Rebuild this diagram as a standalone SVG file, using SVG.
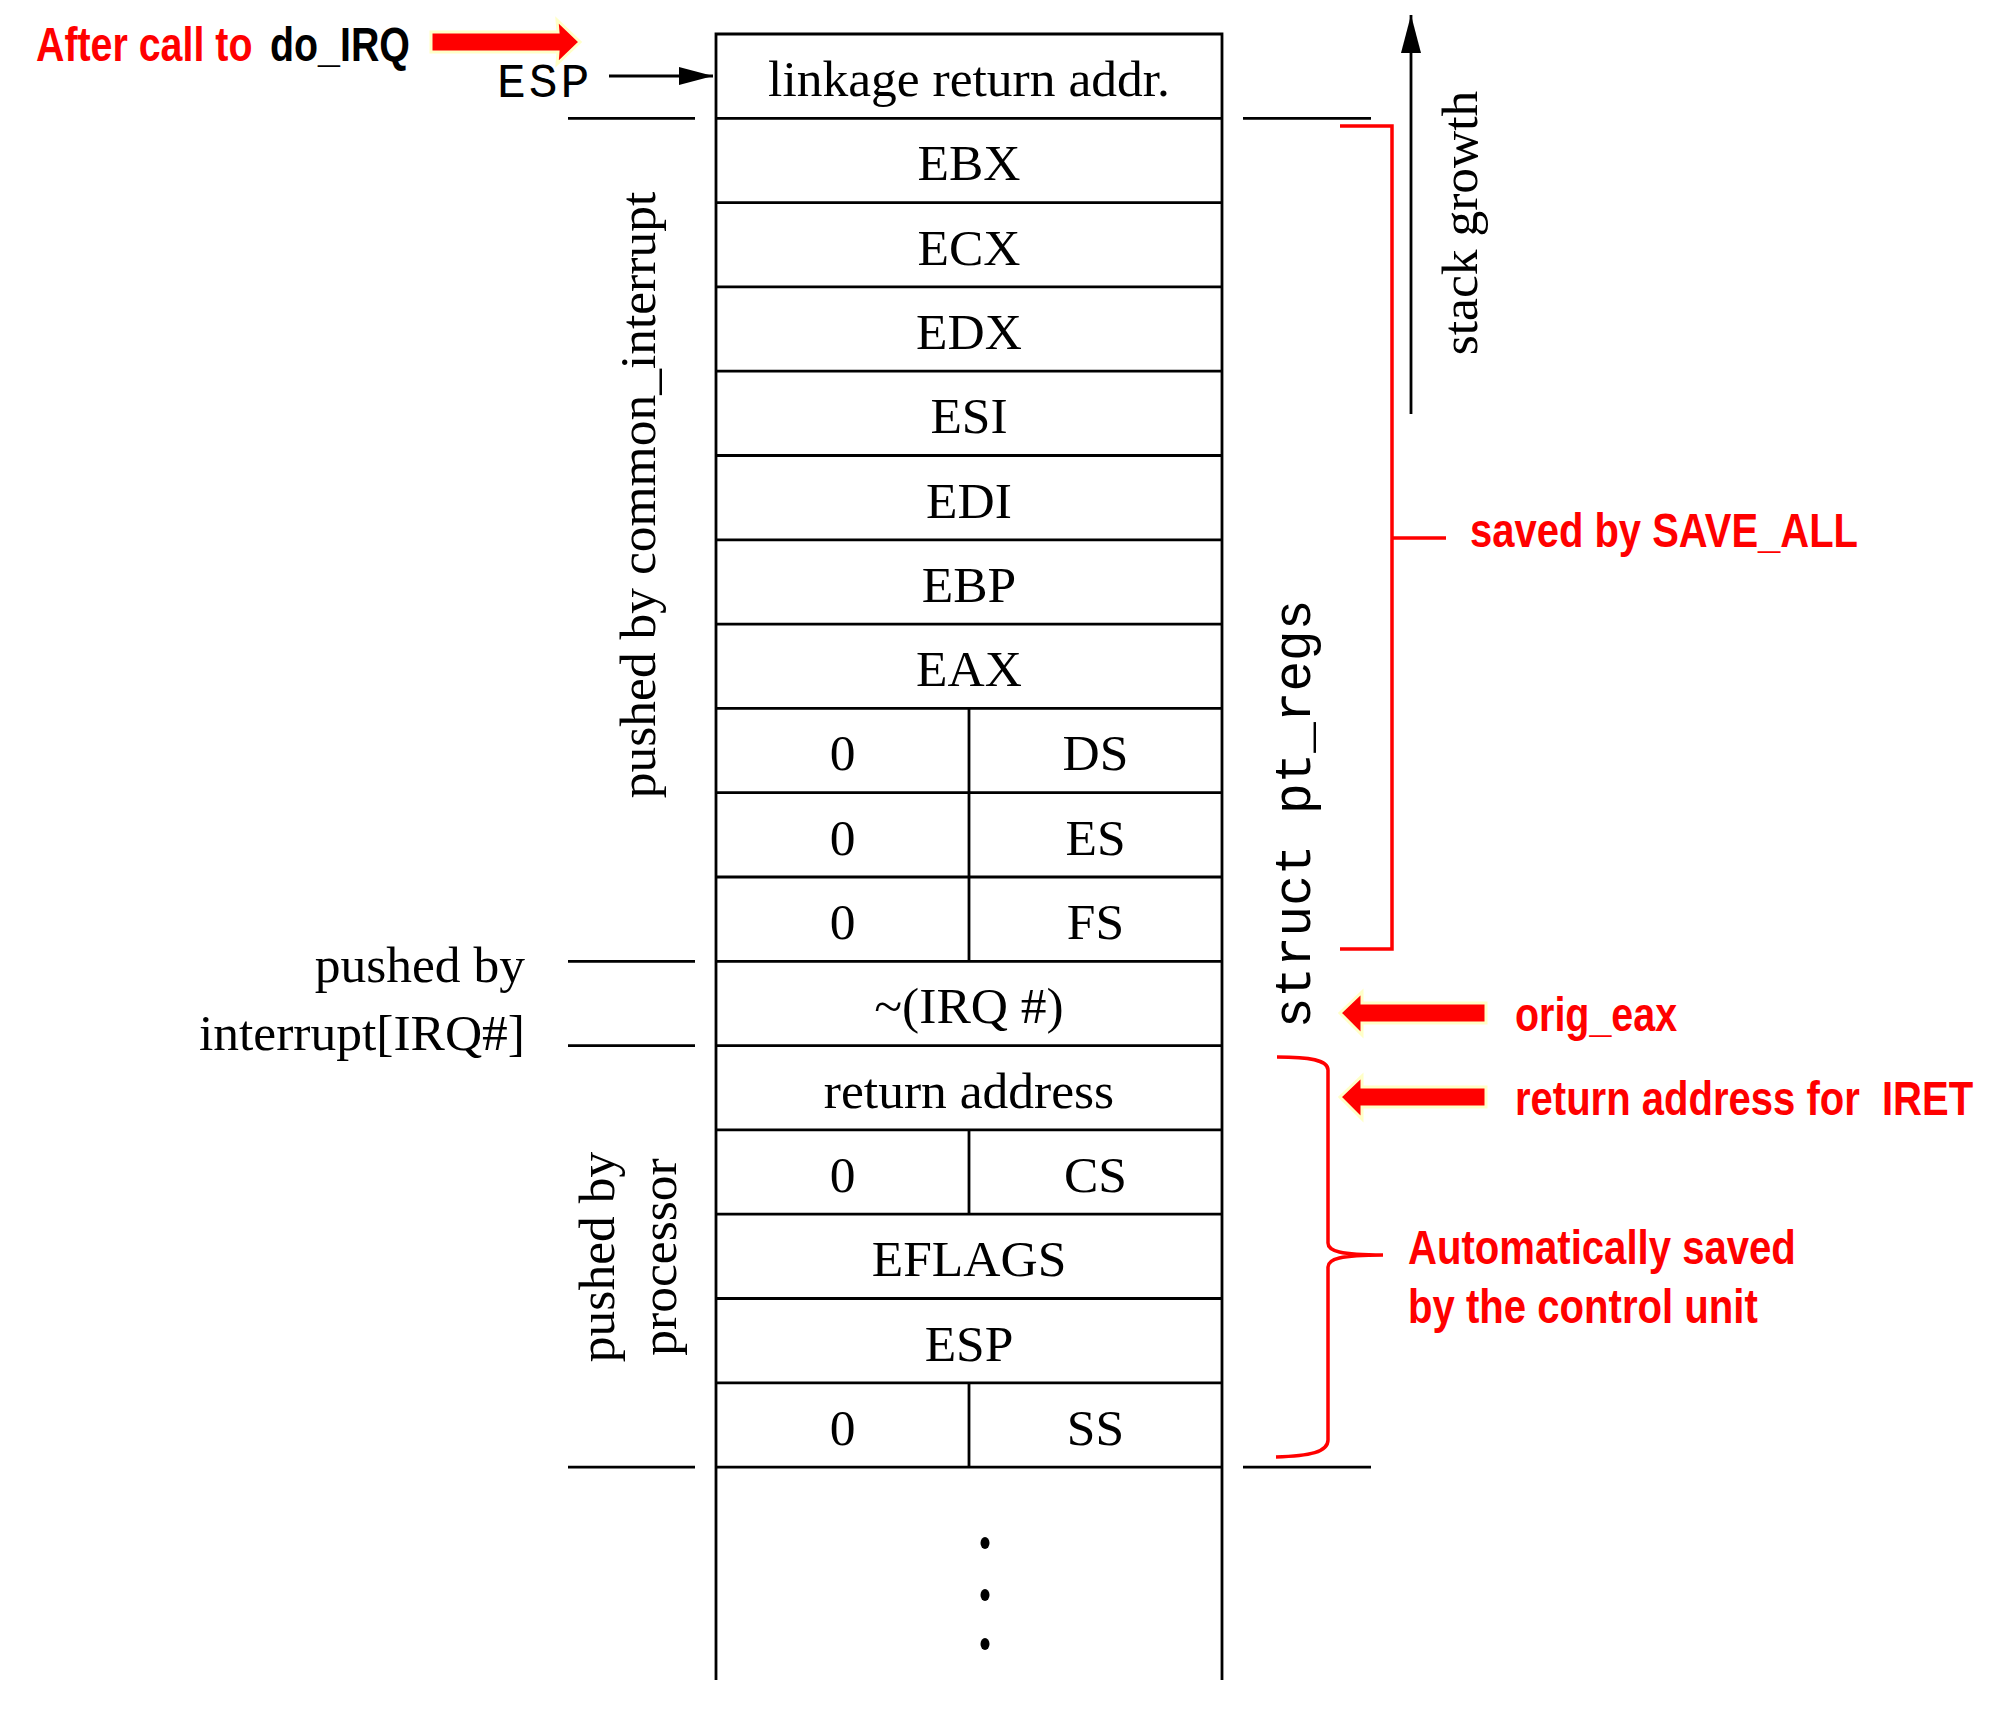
<svg xmlns="http://www.w3.org/2000/svg" width="2011" height="1711" viewBox="0 0 2011 1711">
<style>
.ln{stroke:#000;stroke-width:2.8;fill:none}
.rd{stroke:#FF0000;stroke-width:3.5;fill:none}
.cell{font-family:"Liberation Serif","Times New Roman",serif;font-size:51.5px;fill:#000;text-anchor:middle}
.lab{font-family:"Liberation Serif","Times New Roman",serif;font-size:51.5px;fill:#000}
.mono{font-family:"Liberation Mono","Courier New",monospace;fill:#000}
.red{font-family:"Liberation Sans",Arial,sans-serif;font-weight:bold;font-size:48px;fill:#FF0000}
.rarrow{fill:#FF0000;stroke:#FFFFC8;stroke-width:3;stroke-linejoin:miter}
</style>
<defs>
<marker id="ah" markerUnits="userSpaceOnUse" markerWidth="36" markerHeight="22" refX="34" refY="11" orient="auto">
<path d="M0,2 L34,11 L0,20 Z" fill="#000"/>
</marker>
<marker id="ah2" markerUnits="userSpaceOnUse" markerWidth="40" markerHeight="22" refX="38" refY="11" orient="auto">
<path d="M0,1 L38,11 L0,21 Z" fill="#000"/>
</marker>
</defs>
<rect width="2011" height="1711" fill="#fff"/>

<g id="stack">
<path class="ln" d="M716,1680 V34 H1222 V1680"/>
<path class="ln" d="M716,118.3 H1222 M716,202.6 H1222 M716,286.9 H1222 M716,371.2 H1222 M716,455.5 H1222 M716,539.8 H1222 M716,624.1 H1222 M716,708.4 H1222 M716,792.7 H1222 M716,877 H1222 M716,961.3 H1222 M716,1045.6 H1222 M716,1129.9 H1222 M716,1214.2 H1222 M716,1298.5 H1222 M716,1382.8 H1222 M716,1467.1 H1222"/>
<path class="ln" d="M969,708.4 V961.3 M969,1129.9 V1214.2 M969,1382.8 V1467.1"/>
</g>
<g id="row-linkage"><text class="cell" x="969" y="96">linkage return addr.</text></g>
<g id="row-ebx"><text class="cell" x="969" y="180.3">EBX</text></g>
<g id="row-ecx"><text class="cell" x="969" y="264.6">ECX</text></g>
<g id="row-edx"><text class="cell" x="969" y="348.9">EDX</text></g>
<g id="row-esi"><text class="cell" x="969" y="433.2">ESI</text></g>
<g id="row-edi"><text class="cell" x="969" y="517.5">EDI</text></g>
<g id="row-ebp"><text class="cell" x="969" y="601.8">EBP</text></g>
<g id="row-eax"><text class="cell" x="969" y="686.1">EAX</text></g>
<g id="row-ds"><text class="cell" x="842.5" y="770.4">0</text><text class="cell" x="1095.5" y="770.4">DS</text></g>
<g id="row-es"><text class="cell" x="842.5" y="854.7">0</text><text class="cell" x="1095.5" y="854.7">ES</text></g>
<g id="row-fs"><text class="cell" x="842.5" y="939">0</text><text class="cell" x="1095.5" y="939">FS</text></g>
<g id="row-irq"><text class="cell" x="969" y="1023.3">~(IRQ #)</text></g>
<g id="row-ret"><text class="cell" x="969" y="1107.6">return address</text></g>
<g id="row-cs"><text class="cell" x="842.5" y="1191.9">0</text><text class="cell" x="1095.5" y="1191.9">CS</text></g>
<g id="row-eflags"><text class="cell" x="969" y="1276.2">EFLAGS</text></g>
<g id="row-esp"><text class="cell" x="969" y="1360.5">ESP</text></g>
<g id="row-ss"><text class="cell" x="842.5" y="1444.8">0</text><text class="cell" x="1095.5" y="1444.8">SS</text></g>
<g id="dots">
<ellipse cx="985" cy="1543" rx="4.5" ry="6"/>
<ellipse cx="985" cy="1595" rx="4.5" ry="6"/>
<ellipse cx="985" cy="1644" rx="4.5" ry="6"/>
</g>

<g id="connectors">
<path class="ln" d="M568,118.3 H695 M1243,118.3 H1371 M568,961.3 H695 M568,1045.6 H695 M568,1467.1 H695 M1243,1467.1 H1371"/>
<line class="ln" x1="609" y1="76" x2="713" y2="76" marker-end="url(#ah)"/>
<line class="ln" x1="1411" y1="414" x2="1411" y2="15" marker-end="url(#ah2)"/>
<path class="rd" d="M1340,126 H1392 V949 H1340 M1392,538 H1446"/>
<path class="rd" d="M1277,1057 C1310,1057 1328,1060 1328,1070 L1328,1243 C1328,1251 1340,1255 1383,1255 C1340,1255 1328,1259 1328,1267 L1328,1440 C1328,1452 1310,1456 1276,1457"/>
<path class="rarrow" d="M431,32 H558 L557,20 L580,42 L557,64 L558,52 H431 Z"/>
<path class="rarrow" d="M1486,1003 H1362 L1362,992 L1340,1013 L1362,1035 L1362,1023 H1486 Z"/>
<path class="rarrow" d="M1486,1087 H1362 L1362,1076 L1340,1097 L1362,1119 L1362,1107 H1486 Z"/>
</g>

<g id="labels">
<text class="red" font-size="49" transform="translate(36,61) scale(0.82,1)">After call to</text>
<text class="red" font-size="49" style="fill:#000" transform="translate(270,61) scale(0.82,1)">do_IRQ</text>
<text class="mono" x="497" y="97" font-size="48" letter-spacing="3">ESP</text>
<text class="lab" transform="translate(655,495) rotate(-90)" text-anchor="middle">pushed by common_interrupt</text>
<text class="lab" x="525" y="982" text-anchor="end">pushed by</text>
<text class="lab" x="525" y="1050" text-anchor="end">interrupt[IRQ#]</text>
<text class="lab" transform="translate(614,1257) rotate(-90)" text-anchor="middle">pushed by</text>
<text class="lab" transform="translate(676,1257) rotate(-90)" text-anchor="middle">processor</text>
<text class="lab" transform="translate(1477,223) rotate(-90)" text-anchor="middle">stack growth</text>
<text class="mono" font-size="51" transform="translate(1310,814) rotate(-90)" text-anchor="middle">struct pt_regs</text>
<text class="red" transform="translate(1470,547) scale(0.833,1)">saved by SAVE_ALL</text>
<text class="red" transform="translate(1515,1031) scale(0.821,1)">orig_eax</text>
<text class="red" transform="translate(1515,1115) scale(0.834,1)">return address for&#160; IRET</text>
<text class="red" transform="translate(1408,1264) scale(0.836,1)">Automatically saved</text>
<text class="red" transform="translate(1408,1323) scale(0.836,1)">by the control unit</text>
</g>
</svg>
